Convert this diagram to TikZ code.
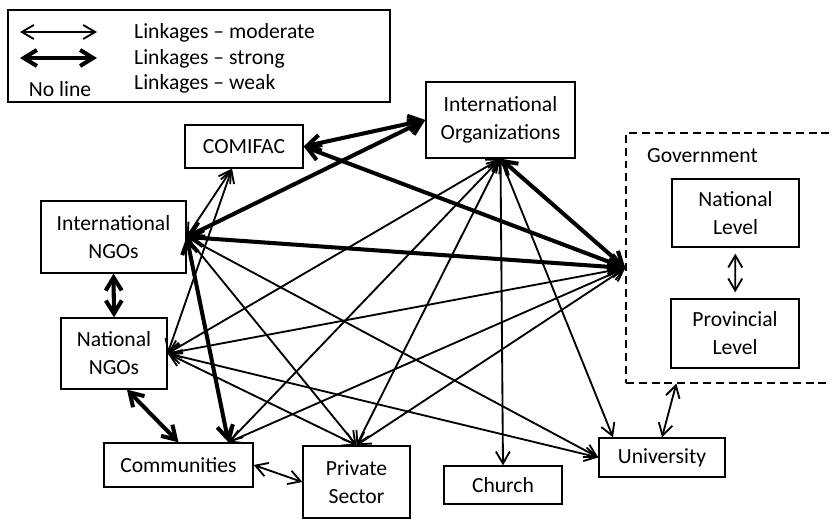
\documentclass[tikz,border=0pt]{standalone}
\usepackage{fontspec}
\setmainfont{Carlito}
\usetikzlibrary{arrows.meta}

\begin{document}
\begin{tikzpicture}[
        box/.style={draw, line width=0.75pt, inner sep=0pt, align=center},
        govbox/.style={draw, line width=0.75pt, dash pattern=on 4.5pt off 2.8pt, inner sep=0pt},
        moderate/.style={{Straight Barb[length=2.4mm,width=2.8mm]}-{Straight Barb[length=2.4mm,width=2.8mm]}, line width=1.05pt},
        strong/.style={{Straight Barb[length=2.6mm,width=3.2mm]}-{Straight Barb[length=2.6mm,width=3.2mm]}, line width=2.3pt},
        font=\fontsize{12.3}{16}\selectfont]
        \useasboundingbox (0,0) rectangle (16.6,10.4);

        % Legend.
        \draw[line width=0.75pt] (0.16,10.2) rectangle (7.8,8.36);
        \coordinate (m1) at (0.40,9.76);
        \coordinate (m2) at (1.94,9.76);
        \coordinate (s1) at (0.40,9.24);
        \coordinate (s2) at (1.94,9.24);
        \draw[moderate] (m1) -- (m2);
        \draw[strong] (s1) -- (s2);
        \draw (1.2,8.62) node (noline) {No line}
            (2.56,9.74) node[anchor=west] (lmod) {Linkages -- moderate}
            (2.56,9.22) node[anchor=west] (lstr) {Linkages -- strong}
            (2.56,8.72) node[anchor=west] (lweak) {Linkages -- weak};

        % Actors.
        \draw (4.88,7.47) node[box, minimum width=2.36cm, minimum height=0.86cm] (comifac) {COMIFAC}
            (10.01,8.0) node[box, minimum width=2.98cm, minimum height=1.52cm] (intorg) {International\\Organizations}
            (2.27,5.66) node[box, minimum width=2.9cm, minimum height=1.44cm] (intngos) {International\\NGOs}
            (2.28,3.33) node[box, minimum width=2.12cm, minimum height=1.42cm] (natngos) {National\\NGOs}
            (3.57,1.10) node[box, minimum width=2.98cm, minimum height=0.88cm] (communities) {Communities}
            (7.13,0.76) node[box, minimum width=2.14cm, minimum height=1.44cm] (privsector) {Private\\Sector}
            (10.06,0.70) node[box, minimum width=2.36cm, minimum height=0.76cm] (church) {Church}
            (13.24,1.25) node[box, minimum width=2.52cm, minimum height=0.78cm] (university) {University};

        % Government.
        \draw (14.66,5.24) node[govbox, minimum width=4.28cm, minimum height=5.0cm] (gov) {}
            (12.82,7.28) node[anchor=west] (govlabel) {Government}
            (14.71,6.14) node[box, minimum width=2.54cm, minimum height=1.36cm] (natlevel) {National\\Level}
            (14.70,3.73) node[box, minimum width=2.56cm, minimum height=1.38cm] (provlevel) {Provincial\\Level};
        \draw[moderate, shorten <=1.2mm, shorten >=1.2mm] (natlevel) -- (provlevel);

        % Strong linkages.
        \draw[strong] (comifac.east) -- (intorg.west);
        \draw[strong] (comifac.east) -- ([yshift=-2mm]gov.west);
        \draw[strong] (intngos.east) -- (intorg.west);
        \draw[strong] (intngos.east) -- ([yshift=-2mm]gov.west);
        \draw[strong] (intorg.south) -- ([yshift=-2mm]gov.west);
        \draw[strong] (intngos.south) -- (natngos.north);
        \draw[strong] ([xshift=2.6mm]natngos.south) -- (communities.north);
        \draw[strong] (intngos.east) -- ([xshift=1cm]communities.north);

        % Moderate linkages.
        \draw[moderate] ([xshift=-2.4mm]comifac.south) -- (intngos.east);
        \draw[moderate] ([xshift=-2.4mm]comifac.south) -- (natngos.east);
        \draw[moderate] (intngos.east) -- (privsector.north);
        \draw[moderate] (intngos.east) -- (university.west);
        \draw[moderate] (natngos.east) -- (intorg.south);
        \draw[moderate] (natngos.east) -- ([yshift=-2mm]gov.west);
        \draw[moderate] (natngos.east) -- (privsector.north);
        \draw[moderate] (natngos.east) -- (university.west);
        \draw[moderate] ([xshift=1cm]communities.north) -- (intorg.south);
        \draw[moderate] ([xshift=1cm]communities.north) -- ([yshift=-2mm]gov.west);
        \draw[moderate] (communities.east) -- (privsector.west);
        \draw[moderate] (privsector.north) -- (intorg.south);
        \draw[moderate] (privsector.north) -- ([yshift=-2mm]gov.west);
        \draw[moderate] (intorg.south) -- (church.north);
        \draw[moderate] (intorg.south) -- ([xshift=-9.8mm]university.north);
        \draw[moderate] (university.north) -- ([xshift=1.02cm]gov.south west);
    \end{tikzpicture}
\end{document}
